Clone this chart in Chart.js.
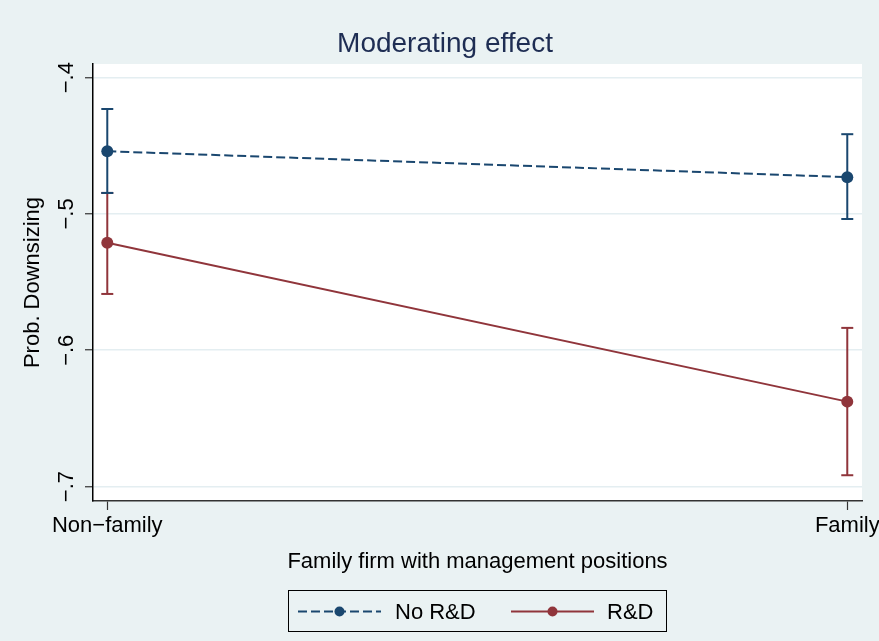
<!DOCTYPE html>
<html>
<head>
    <meta charset="utf-8" />
    <title>Moderating effect</title>
    <style>
        body { margin: 0; background: #eaf2f3; }
        canvas { display: block; }
    </style>
</head>
<body>
    <canvas id="chart" width="879" height="641"></canvas>

    <script src="https://cdn.jsdelivr.net/npm/chart.js"></script>
    <script type="text/javascript">
        // valores
        const categories = ['Non\u2212family', 'Family'];
        const xPositions = [0, 1];
        const seriesNames = ['No R&D', 'R&D'];
        const noRD = [-0.454, -0.473];
        const noRDLow = [-0.4846, -0.5037];
        const noRDHigh = [-0.4230, -0.4415];
        const rd = [-0.5211, -0.6377];
        const rdLow = [-0.5587, -0.6917];
        const rdHigh = [-0.4846, -0.5836];
        const yTicks = [-0.4, -0.5, -0.6, -0.7];
        const yTickLabels = ['\u2212.4', '\u2212.5', '\u2212.6', '\u2212.7'];

        const navy = '#1a476f';
        const maroon = '#90353b';
        const fontFamily = "'Liberation Sans', Arial, Helvetica, sans-serif";

        // barras de error: un dataset por categoria y serie
        function errorBars(low, high, color, name) {
            return xPositions.map((x, i) => ({
                label: name + ' CI',
                data: [{ x: x, y: high[i] }, { x: x, y: low[i] }],
                borderColor: color,
                borderWidth: 2,
                pointStyle: 'line',
                pointRadius: 6,
                pointBorderWidth: 2,
                pointBorderColor: color,
                pointHoverRadius: 6
            }));
        }

        const datasets = [
            {
                label: seriesNames[0],
                data: xPositions.map((x, i) => ({ x: x, y: noRD[i] })),
                borderColor: navy,
                backgroundColor: navy,
                borderWidth: 2,
                borderDash: [9, 4],
                pointRadius: 6,
                pointBorderWidth: 0
            },
            {
                label: seriesNames[1],
                data: xPositions.map((x, i) => ({ x: x, y: rd[i] })),
                borderColor: maroon,
                backgroundColor: maroon,
                borderWidth: 2,
                pointRadius: 6,
                pointBorderWidth: 0
            },
            ...errorBars(noRDLow, noRDHigh, navy, seriesNames[0]),
            ...errorBars(rdLow, rdHigh, maroon, seriesNames[1])
        ];

        // fondo, titulo, etiquetas del eje y y leyenda
        const stataPlugin = {
            id: 'stata',
            beforeDraw(chart) {
                const ctx = chart.ctx;
                const a = chart.chartArea;
                ctx.save();
                ctx.fillStyle = '#eaf2f3';
                ctx.fillRect(0, 0, chart.width, chart.height);
                ctx.fillStyle = '#ffffff';
                ctx.fillRect(a.left, a.top, a.right - a.left, a.bottom - a.top);
                ctx.restore();
            },
            afterDraw(chart) {
                const ctx = chart.ctx;
                const yScale = chart.scales.y;
                ctx.save();

                // titulo
                ctx.fillStyle = '#1e2d53';
                ctx.font = '28px ' + fontFamily;
                ctx.textAlign = 'center';
                ctx.textBaseline = 'alphabetic';
                ctx.fillText('Moderating effect', 445, 52);

                // etiquetas del eje y, giradas
                ctx.fillStyle = '#000000';
                ctx.font = '22px ' + fontFamily;
                yTicks.forEach((v, i) => {
                    const py = yScale.getPixelForValue(v);
                    ctx.save();
                    ctx.translate(73, py);
                    ctx.rotate(-Math.PI / 2);
                    ctx.textAlign = 'center';
                    ctx.textBaseline = 'alphabetic';
                    ctx.fillText(yTickLabels[i], 0, 0);
                    ctx.restore();
                });

                // leyenda
                const bx = 288.5, by = 590.5, bw = 378, bh = 41;
                ctx.strokeStyle = '#000000';
                ctx.lineWidth = 1;
                ctx.strokeRect(bx, by, bw, bh);

                const entries = [
                    { ds: chart.data.datasets[0], x0: 298, x1: 381, tx: 395 },
                    { ds: chart.data.datasets[1], x0: 511, x1: 594, tx: 607 }
                ];
                const ly = 611.5;
                entries.forEach(e => {
                    ctx.strokeStyle = e.ds.borderColor;
                    ctx.lineWidth = e.ds.borderWidth;
                    ctx.setLineDash(e.ds.borderDash || []);
                    ctx.beginPath();
                    ctx.moveTo(e.x0, ly);
                    ctx.lineTo(e.x1, ly);
                    ctx.stroke();
                    ctx.setLineDash([]);
                    ctx.fillStyle = e.ds.backgroundColor;
                    ctx.beginPath();
                    ctx.arc((e.x0 + e.x1) / 2, ly, 5, 0, Math.PI * 2);
                    ctx.fill();
                    ctx.fillStyle = '#000000';
                    ctx.font = '22px ' + fontFamily;
                    ctx.textAlign = 'left';
                    ctx.textBaseline = 'alphabetic';
                    ctx.fillText(e.ds.label, e.tx, 619);
                });
                ctx.restore();
            }
        };

        const ctx = document.getElementById('chart').getContext('2d');
        const myChart = new Chart(ctx, {
            type: 'line',
            data: { datasets: datasets },
            options: {
                responsive: false,
                animation: false,
                devicePixelRatio: 1,
                layout: {
                    padding: { left: 0, top: 64, right: 17, bottom: 60 }
                },
                plugins: {
                    legend: { display: false },
                    title: { display: false },
                    tooltip: { enabled: false }
                },
                scales: {
                    x: {
                        type: 'linear',
                        min: -0.0193,
                        max: 1.0199,
                        afterBuildTicks: scale => {
                            scale.ticks = xPositions.map(v => ({ value: v }));
                        },
                        afterFit: scale => {
                            scale.height = 80;
                            scale.paddingLeft = 0;
                            scale.paddingRight = 0;
                        },
                        ticks: {
                            autoSkip: false,
                            maxRotation: 0,
                            padding: 3,
                            color: '#000000',
                            font: { family: fontFamily, size: 22 },
                            callback: v => categories[xPositions.indexOf(v)]
                        },
                        grid: {
                            drawOnChartArea: false,
                            drawTicks: true,
                            tickLength: 9,
                            tickColor: '#333333',
                            tickWidth: 1.2
                        },
                        border: { color: '#333333', width: 1.5 },
                        title: {
                            display: true,
                            text: 'Family firm with management positions',
                            color: '#000000',
                            font: { family: fontFamily, size: 22 },
                            padding: { top: 0, bottom: 6 }
                        }
                    },
                    y: {
                        min: -0.7106,
                        max: -0.39,
                        afterBuildTicks: scale => {
                            scale.ticks = yTicks.map(v => ({ value: v }));
                        },
                        afterFit: scale => {
                            scale.width = 93;
                        },
                        ticks: { display: false },
                        grid: {
                            color: '#e4eef1',
                            lineWidth: 1.5,
                            drawTicks: true,
                            tickLength: 8,
                            tickColor: '#333333',
                            tickWidth: 1.2
                        },
                        border: { color: '#000000', width: 1.5 },
                        title: {
                            display: true,
                            text: 'Prob. Downsizing',
                            color: '#000000',
                            font: { family: fontFamily, size: 22 },
                            padding: { top: 20, bottom: 0 }
                        }
                    }
                }
            },
            plugins: [stataPlugin]
        });
    </script>
</body>
</html>
